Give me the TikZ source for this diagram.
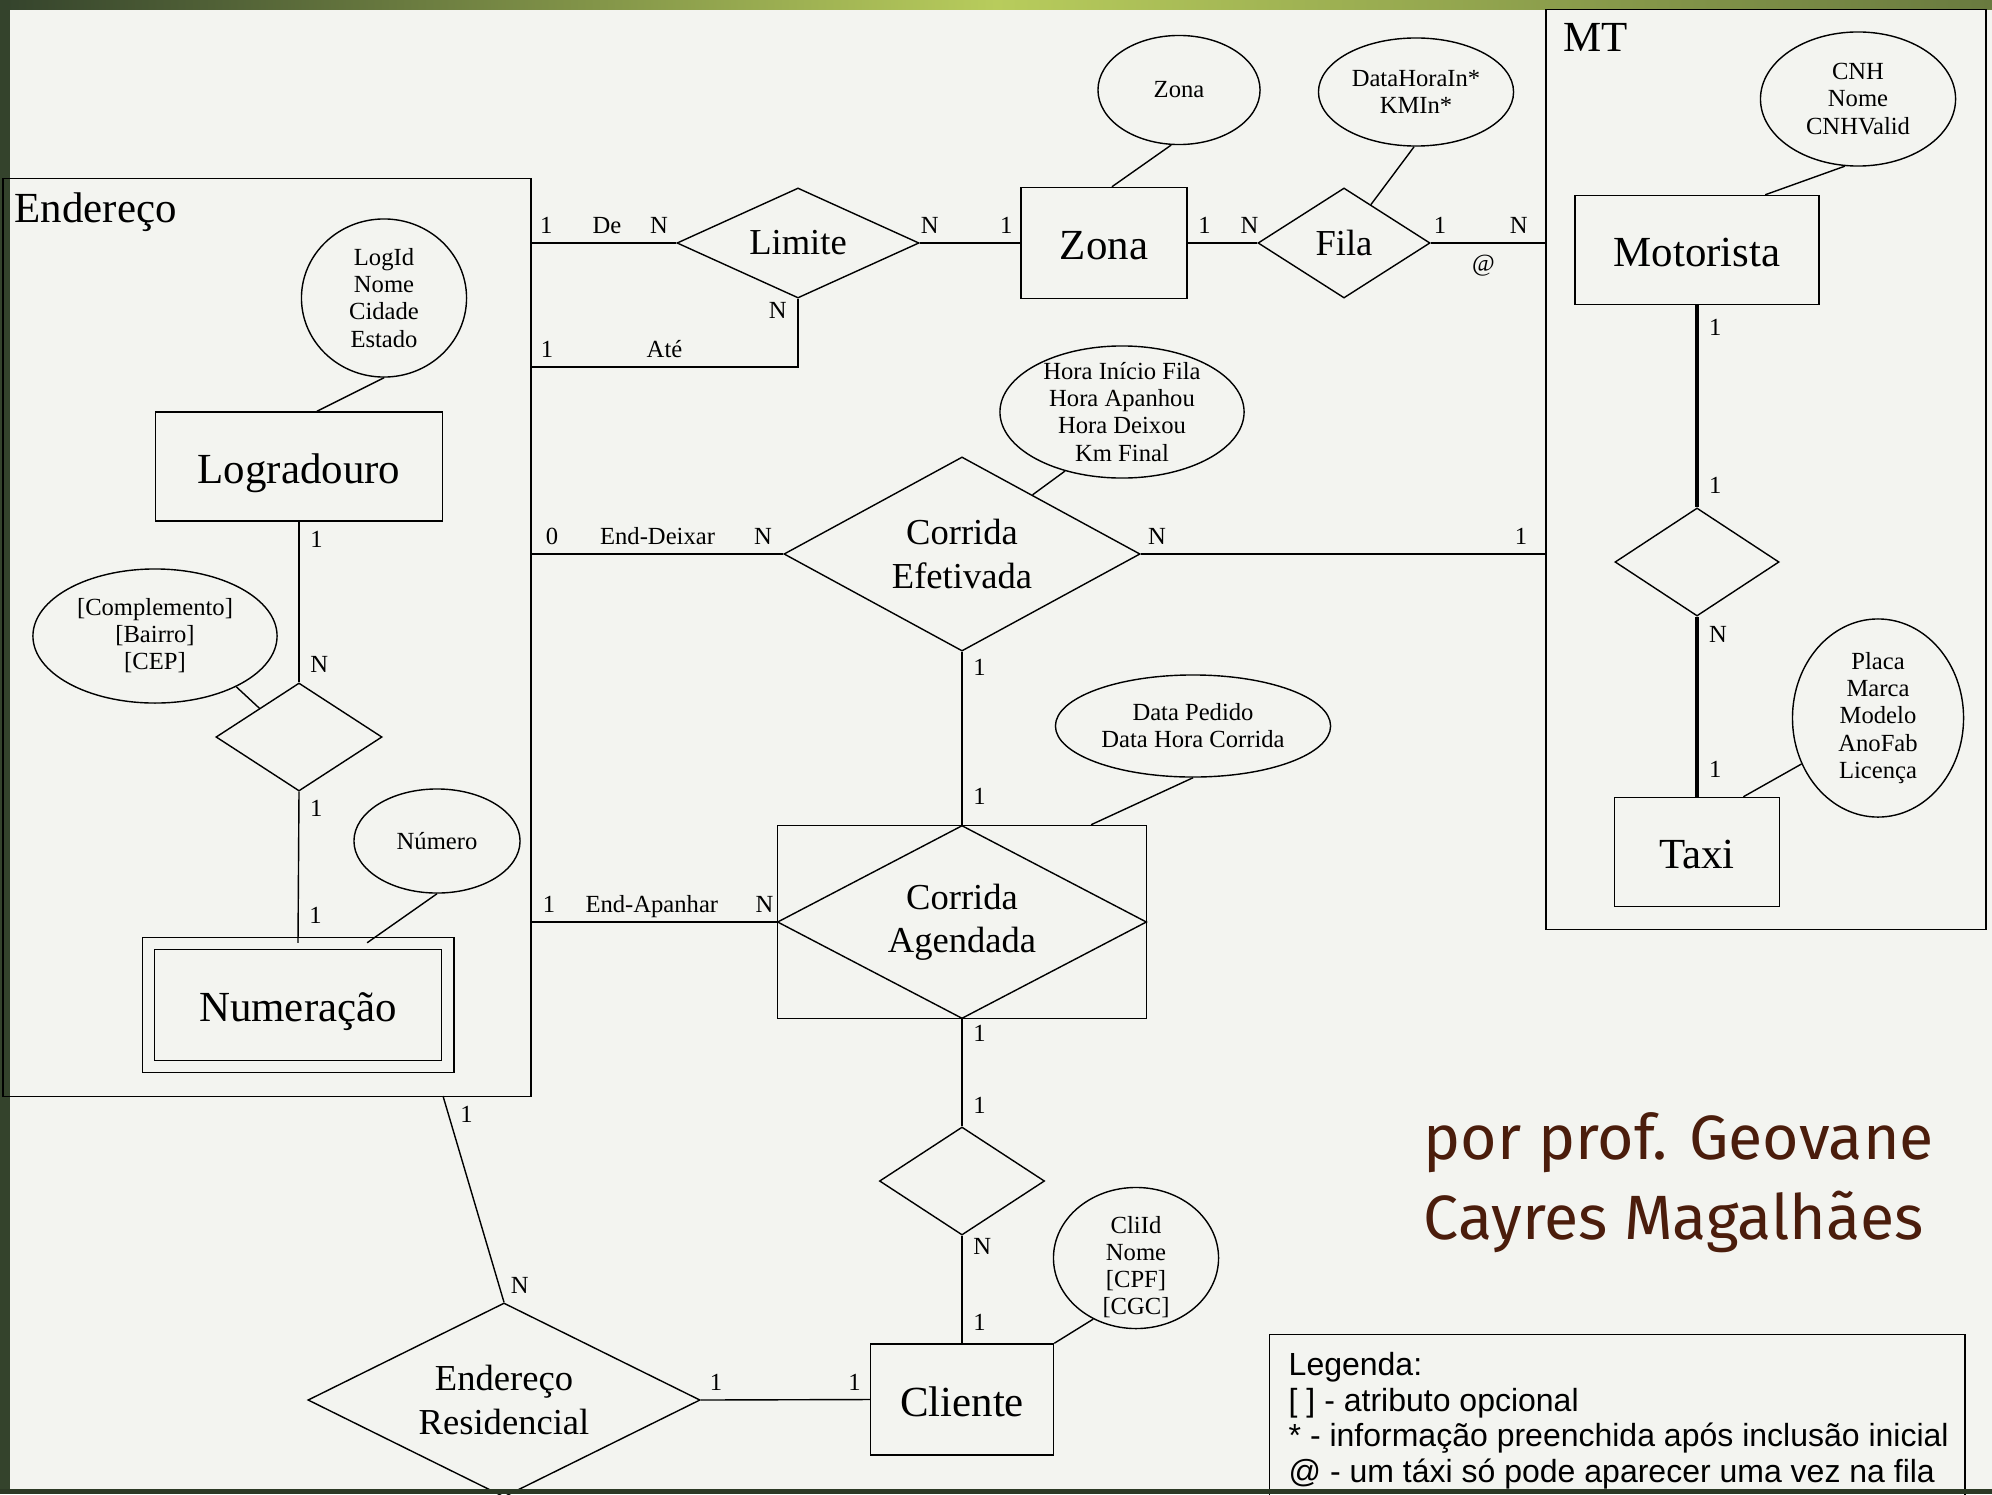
\documentclass[tikz,border=0pt]{standalone}
\usepackage{fontspec}
\setmainfont{Liberation Serif}
\newfontfamily\legfont{Liberation Sans}
\newfontfamily\sigfont{Fira Sans}
\usepackage{xcolor}
\definecolor{erbg}{HTML}{F3F4F0}
\definecolor{erleaf}{HTML}{34432C}
\definecolor{erlime}{HTML}{B8CC5C}
\definecolor{ersig}{HTML}{4B1D0C}
\usepackage{tikz}
\usetikzlibrary{positioning,shapes.geometric}
\tikzset{
  erent/.style={draw,thin,inner sep=0pt,text height=9.6pt,text depth=0pt,font=\fontsize{12.2}{14}\selectfont},
  errel/.style={draw,thin,diamond,inner sep=0pt,align=center,font=\fontsize{10.4}{12.3}\selectfont},
  erattr/.style={draw,thin,ellipse,inner sep=0pt},
  erattrtext/.style={align=center,inner sep=0pt,font=\fontsize{7}{7.7}\selectfont},
  ergroup/.style={draw,thin,inner sep=0pt},
  ertitle/.style={anchor=base west,inner sep=0pt,font=\fontsize{12.2}{14}\selectfont},
  ercard/.style={font=\fontsize{7}{8}\selectfont,inner sep=1pt,text height=5pt,text depth=1.5pt},
  erline/.style={thin},
  erbold/.style={line width=0.9pt},
}

\begin{document}
\begin{tikzpicture}[x=0.01cm,y=-0.01cm]
 % fundo do slide
\useasboundingbox (0,0) rectangle (1992,1494);
\fill[erbg] (0,0) rectangle (1992,1494);
\shade[left color=erleaf,right color=erlime] (0,0) rectangle (996,10);
\shade[left color=erlime,right color=erleaf!60!erlime] (996,0) rectangle (1992,10);
\fill[erleaf] (0,0) rectangle (10,1494);
 % grupos
\node[ergroup,minimum width=5.28cm,minimum height=9.17cm] (ender) at (267,637.5) {};
\node[ertitle] (endertit) at (14,222) {Endereço};
\node[ergroup,minimum width=4.40cm,minimum height=9.19cm] (mt) at (1766,469.5) {};
\node[ertitle] (mttit) at (1563,52) {MT};
 % entidades
\node[erent,minimum width=2.87cm,minimum height=1.09cm] (logr) at (299,466.5) {Logradouro};
\node[erent,double=erbg,double distance=0.11cm,minimum width=2.99cm,minimum height=1.23cm] (numer) at (298,1005) {Numeração};
\node[erent,minimum width=1.66cm,minimum height=1.11cm] (zona) at (1104,243) {Zona};
\node[erent,minimum width=2.44cm,minimum height=1.09cm] (motor) at (1697,250) {Motorista};
\node[erent,minimum width=1.65cm,minimum height=1.09cm] (taxi) at (1697,852) {Taxi};
\node[erent,minimum width=1.83cm,minimum height=1.11cm] (cli) at (962,1399.5) {Cliente};
\node[erent,minimum width=3.69cm,minimum height=1.93cm] (agbox) at (962,922) {};
 % relacionamentos
\node[errel,aspect=2.2,minimum width=2.42cm,minimum height=1.10cm] (lim) at (798,243) {Limite};
\node[errel,aspect=1.56,minimum width=1.72cm,minimum height=1.10cm] (fila) at (1344,243) {Fila};
\node[errel,aspect=1.83,minimum width=3.56cm,minimum height=1.94cm] (efet) at (962,554) {Corrida\\Efetivada};
\node[errel,aspect=1.91,minimum width=3.69cm,minimum height=1.93cm] (ag) at (962,922) {Corrida\\Agendada};
\node[errel,minimum width=1.66cm,minimum height=1.08cm] (rlogn) at (299,737) {};
\node[errel,minimum width=1.64cm,minimum height=1.08cm] (rmt) at (1697,562) {};
\node[errel,minimum width=1.65cm,minimum height=1.08cm] (ragcli) at (962,1181) {};
\node[errel,aspect=2.02,minimum width=3.92cm,minimum height=1.94cm] (eres) at (504,1400) {Endereço\\Residencial};
 % atributos
\node[erattr,minimum width=1.62cm,minimum height=1.09cm,label={[erattrtext]center:Zona}] (azona) at (1179,90) {};
\node[erattr,minimum width=1.95cm,minimum height=1.08cm,label={[erattrtext]center:DataHoraIn*\\KMIn*}] (afila) at (1416,92) {};
\node[erattr,minimum width=1.95cm,minimum height=1.34cm,label={[erattrtext]center:CNH\\Nome\\CNHValid}] (amotor) at (1858,99) {};
\node[erattr,minimum width=1.71cm,minimum height=1.98cm,label={[erattrtext]center:Placa\\Marca\\Modelo\\AnoFab\\Licença}] (ataxi) at (1878,718) {};
\node[erattr,minimum width=1.65cm,minimum height=1.58cm,label={[erattrtext]center:LogId\\Nome\\Cidade\\Estado}] (alogr) at (384,298) {};
\node[erattr,minimum width=2.44cm,minimum height=1.34cm,label={[erattrtext]center:{}[Complemento]\\{}[Bairro]\\{}[CEP]}] (acompl) at (155,636) {};
\node[erattr,minimum width=1.66cm,minimum height=1.04cm,label={[erattrtext]center:Número}] (anum) at (437,841) {};
\node[erattr,minimum width=2.44cm,minimum height=1.32cm,label={[erattrtext]center:Hora Início Fila\\Hora Apanhou\\Hora Deixou\\Km Final}] (aefet) at (1122,412) {};
\node[erattr,minimum width=2.75cm,minimum height=1.02cm,label={[erattrtext]center:Data Pedido\\Data Hora Corrida}] (aag) at (1193,726) {};
\node[erattr,minimum width=1.65cm,minimum height=1.41cm,label={[erattrtext,yshift=-0.09cm]center:CliId\\Nome\\{}[CPF]\\{}[CGC]}] (acli) at (1136,1258) {};
\draw[erline](azona.262) -- (zona.82);
\draw[erline](afila.268) -- (fila.55);
\draw[erline](amotor.259) -- (motor.39);
\draw[erline](ataxi.211) -- (taxi.50);
\draw[erline](alogr.south) -- (logr.72);
\draw[erline](acompl.328) -- (rlogn.144);
\draw[erline](anum.south) -- (numer.42);
\draw[erline](aefet.226) -- (efet.40);
\draw[erline](aag.south) -- (agbox.37);
\draw[erline](acli.235) -- (cli.north east);
 % ligacoes com cardinalidades
\coordinate (ateend) at (531,367);
\coordinate (resid) at (443,1096);
\draw[erline](lim.west -| ender.east) -- node[ercard,pos=.1,above]{1} node[ercard,pos=.52,above]{De} node[ercard,pos=.88,above]{N} (lim.west);
\draw[erline](lim.south) |- node[ercard,pos=.1,left=2pt]{N} node[ercard,pos=.75,above]{Até} node[ercard,pos=.97,above]{1} (ateend);
\draw[erline](lim.east) -- node[ercard,pos=.1,above]{N} node[ercard,pos=.86,above]{1} (zona.west);
\draw[erline](zona.east) -- node[ercard,pos=.24,above]{1} node[ercard,pos=.89,above]{N} (fila.west);
\draw[erline](fila.east) -- node[ercard,pos=.08,above]{1} node[ercard,pos=.46,below=2pt]{@} node[ercard,pos=.77,above]{N} (fila.east -| mt.west);
\draw[erline](efet.west -| ender.east) -- node[ercard,pos=.08,above]{0} node[ercard,pos=.5,above]{End-Deixar} node[ercard,pos=.92,above]{N} (efet.west);
\draw[erline](efet.east) -- node[ercard,pos=.04,above]{N} node[ercard,pos=.94,above]{1} (efet.east -| mt.west);
\draw[erline](efet.south) -- node[ercard,pos=.1,right=2pt]{1} node[ercard,pos=.85,right=2pt]{1} (agbox.north);
\draw[erline](ag.west -| ender.east) -- node[ercard,pos=.07,above]{1} node[ercard,pos=.49,above]{End-Apanhar} node[ercard,pos=.95,above]{N} (ag.west);
\draw[erline](agbox.south) -- node[ercard,pos=.15,right=2pt]{1} node[ercard,pos=.82,right=2pt]{1} (ragcli.north);
\draw[erline](ragcli.south) -- node[ercard,pos=.12,right=2pt]{N} node[ercard,pos=.82,right=2pt]{1} (cli.north);
\draw[erline](resid) -- node[ercard,pos=.1,right=2pt]{1} node[ercard,pos=.93,right=2pt]{N} (eres.north);
\draw[erline](eres.east) -- node[ercard,pos=.09,above]{1} node[ercard,pos=.91,above]{1} (cli.west);
\draw[erline](logr.south) -- node[ercard,pos=.12,right=2pt]{1} node[ercard,pos=.9,right=2pt]{N} (rlogn.north);
\draw[erline](rlogn.south) -- node[ercard,pos=.12,right=2pt]{1} node[ercard,pos=.83,right=2pt]{1} (numer.north);
\draw[erbold](motor.south) -- node[ercard,pos=.12,right=2pt]{1} node[ercard,pos=.9,right=2pt]{1} (rmt.north);
\draw[erbold](rmt.south) -- node[ercard,pos=.11,right=2pt]{N} node[ercard,pos=.86,right=2pt]{1} (taxi.north);
 % autoria e legenda
\node[anchor=base west,inner sep=0pt,font=\sigfont\fontsize{17.8}{22.8}\selectfont,text=ersig] (sig1) at (1423,1159) {por prof. Geovane};
\node[anchor=base west,inner sep=0pt,font=\sigfont\fontsize{17.8}{22.8}\selectfont,text=ersig] (sig2) at (1423,1239) {Cayres Magalhães};
\node[draw,thin,anchor=north west,minimum width=6.95cm,minimum height=1.8cm] (leg) at (1269,1334) {};
\node[anchor=north west,inner sep=0pt,align=left,font=\legfont\fontsize{9.1}{10.1}\selectfont] (legtxt) at (1288,1352) {Legenda:\\{}[ ] - atributo opcional\\* - informação preenchida após inclusão inicial\\@ - um táxi só pode aparecer uma vez na fila};
\fill[erleaf!85!black] (0,1489) rectangle (1992,1494);
\end{tikzpicture}
\end{document}
